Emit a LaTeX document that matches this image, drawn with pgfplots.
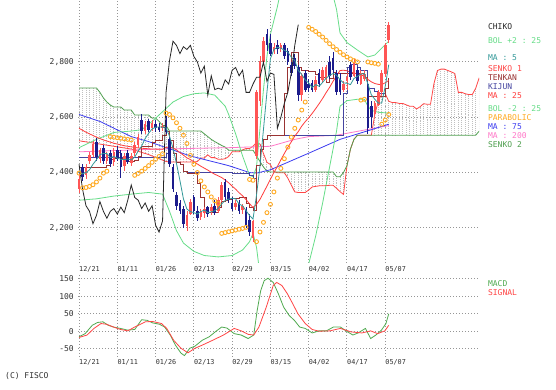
\documentclass[border=0pt]{standalone}
\usepackage{fontspec}
\setmonofont{DejaVu Sans Mono}
\usepackage{pgfplots}
\pgfplotsset{compat=1.18}
\usepackage{pgfplotstable}

\definecolor{upc}{RGB}{255,85,85}
\definecolor{dnc}{RGB}{28,28,140}
\definecolor{bolc}{RGB}{102,221,136}
\definecolor{ma5c}{RGB}{51,153,153}
\definecolor{tenc}{RGB}{153,51,51}
\definecolor{kijc}{RGB}{68,68,160}
\definecolor{ma25c}{RGB}{255,60,60}
\definecolor{s1c}{RGB}{255,70,70}
\definecolor{s2c}{RGB}{80,160,80}
\definecolor{sarc}{RGB}{255,170,34}
\definecolor{ma75c}{RGB}{60,60,240}
\definecolor{ma200c}{RGB}{255,120,200}
\definecolor{macdc}{RGB}{80,170,80}
\definecolor{sigc}{RGB}{255,70,70}
\definecolor{gridc}{RGB}{150,150,150}
\definecolor{hatchc}{RGB}{192,192,192}
\definecolor{txtc}{RGB}{50,50,50}

\tikzset{lab/.style={anchor=west, inner sep=0pt, font=\ttfamily\fontsize{8}{9}\selectfont}}

% Ichimoku cloud: senko 1 (a) and senko 2 (b)
\pgfplotstableread{
i a b
0 2515 2706
1 2513 2706
2 2511 2706
3 2509 2706
4 2507 2706
5 2505 2706
6 2503 2690
7 2501 2670
8 2499 2655
9 2497 2644
10 2495 2637
11 2493 2637
12 2491 2637
13 2489 2626
14 2487 2626
15 2485 2626
16 2481 2608
17 2477 2608
18 2473 2608
19 2469 2608
20 2465 2608
21 2460 2597
22 2455 2597
23 2450 2585
24 2445 2570
25 2440 2570
26 2438 2550
27 2438 2550
28 2438 2550
29 2438 2550
30 2438 2550
31 2438 2550
32 2438 2550
33 2438 2550
34 2440 2550
35 2452 2550
36 2453 2540
37 2464 2530
38 2454 2520
39 2454 2512
40 2448 2505
41 2448 2498
42 2450 2492
43 2458 2481
44 2475 2481
45 2475 2481
46 2475 2481
47 2482 2481
48 2487 2481
49 2487 2481
50 2495 2481
51 2509 2460
52 2503 2440
53 2469 2420
54 2437 2405
55 2429 2402
56 2404 2402
57 2399 2402
58 2399 2402
59 2399 2402
60 2380 2402
61 2355 2402
62 2330 2402
63 2328 2402
64 2328 2402
65 2328 2402
66 2337 2402
67 2348 2402
68 2350 2402
69 2352 2402
70 2352 2402
71 2353 2402
72 2354 2402
73 2354 2402
74 2343 2385
75 2331 2385
76 2321 2400
77 2425 2425
78 2485 2485
79 2520 2520
80 2535 2535
81 2535 2535
82 2535 2535
83 2535 2535
84 2535 2535
85 2610 2535
86 2658 2535
87 2685 2535
88 2685 2535
89 2658 2535
90 2653 2535
91 2653 2535
92 2650 2535
93 2650 2535
94 2645 2535
95 2640 2535
96 2640 2535
97 2630 2535
98 2638 2535
99 2649 2535
100 2647 2535
101 2647 2535
102 2722 2535
103 2769 2535
104 2774 2535
105 2774 2535
106 2769 2535
107 2764 2535
108 2758 2535
109 2690 2535
110 2690 2535
111 2685 2535
112 2682 2535
113 2682 2535
114 2705 2535
115 2743 2550
}\cloud

\pgfplotstableread{
i o h l c
0 2340 2400 2325 2375
2 2390 2430 2375 2420
3 2440 2475 2430 2465
4 2465 2515 2455 2505
6 2450 2490 2435 2480
8 2440 2475 2430 2465
10 2440 2490 2425 2475
13 2425 2470 2405 2460
15 2435 2470 2425 2460
16 2470 2510 2460 2500
17 2500 2540 2490 2530
19 2550 2585 2540 2575
21 2560 2590 2550 2580
24 2560 2580 2550 2570
31 2205 2260 2190 2245
32 2250 2305 2245 2295
35 2240 2270 2230 2260
36 2255 2275 2235 2270
38 2260 2285 2245 2275
40 2260 2310 2255 2300
41 2300 2365 2295 2355
45 2275 2300 2265 2290
47 2265 2285 2250 2280
50 2165 2230 2150 2225
51 2460 2700 2450 2690
52 2660 2820 2640 2805
53 2800 2890 2790 2875
56 2840 2870 2830 2855
58 2845 2870 2835 2860
64 2680 2760 2660 2750
68 2700 2750 2690 2735
70 2735 2780 2725 2770
71 2740 2790 2730 2780
76 2700 2730 2690 2720
77 2730 2760 2700 2745
79 2750 2810 2745 2800
81 2720 2770 2715 2760
82 2740 2770 2730 2755
85 2610 2660 2600 2650
86 2645 2700 2640 2690
87 2690 2770 2680 2760
88 2755 2870 2745 2860
89 2880 2945 2870 2935
}\upcandles

\pgfplotstableread{
i o h l c
1 2420 2430 2370 2385
5 2510 2525 2440 2455
7 2490 2500 2430 2440
9 2470 2480 2420 2430
11 2480 2495 2440 2450
12 2470 2480 2380 2420
14 2470 2480 2430 2440
18 2590 2610 2540 2550
20 2585 2595 2545 2555
22 2575 2590 2545 2560
23 2565 2580 2545 2555
25 2590 2605 2540 2545
26 2520 2530 2420 2430
27 2420 2430 2330 2340
28 2320 2330 2265 2280
29 2290 2300 2250 2260
30 2270 2280 2200 2215
33 2310 2320 2250 2260
34 2260 2280 2225 2235
37 2275 2280 2240 2250
39 2280 2300 2245 2255
42 2365 2375 2300 2310
43 2330 2345 2290 2300
44 2290 2310 2260 2270
46 2290 2300 2250 2260
48 2265 2275 2200 2210
49 2230 2250 2170 2185
54 2900 2920 2840 2860
55 2870 2900 2820 2830
57 2860 2880 2830 2845
59 2860 2870 2810 2820
60 2840 2850 2790 2800
61 2790 2800 2750 2760
62 2815 2830 2775 2785
63 2780 2790 2660 2680
65 2760 2770 2690 2700
66 2720 2740 2690 2705
67 2725 2735 2690 2700
69 2760 2775 2710 2720
72 2800 2820 2740 2750
73 2815 2835 2760 2770
74 2760 2770 2680 2690
75 2740 2760 2680 2690
78 2790 2800 2735 2745
80 2770 2780 2720 2730
83 2720 2730 2540 2560
84 2640 2660 2560 2600
}\dncandles

\begin{document}
\begin{tikzpicture}
\fill[white] (0pt,0pt) rectangle (556pt,390pt);

\begin{axis}[
  at={(78pt,127pt)}, anchor=south west,
  width=401.2pt, height=263pt, scale only axis,
  xmin=-0.3, xmax=115, ymin=2073, ymax=3024,
  axis line style={draw=none},
  major tick length=0pt,
  xtick={0,11,22,33,44,55,66,77,88},
  xticklabels={12/21,01/11,01/26,02/13,02/29,03/15,04/02,04/17,05/07},
  ytick={2200,2400,2600,2800},
  yticklabels={{2,200},{2,400},{2,600},{2,800}},
  grid=major,
  major grid style={gridc, line width=1pt, dash pattern=on 1pt off 2pt},
  xticklabel style={font=\ttfamily\fontsize{6.8}{7}\selectfont, text=txtc, anchor=north west, inner sep=0pt, yshift=-3pt},
  yticklabel style={font=\ttfamily\fontsize{8}{9}\selectfont, text=txtc, anchor=east, inner sep=0pt, xshift=-4pt},
]
% Cloud hatching (vertical dotted lines between senko 1 and senko 2)
\addplot[draw=none, mark=none, forget plot, error bars/.cd, y dir=both, y explicit, error mark=none, error bar style={draw=hatchc, line width=0.9pt, dash pattern=on 1pt off 1pt}]
  table[x=i, y expr={(\thisrow{a}+\thisrow{b})/2}, y error expr={abs(\thisrow{a}-\thisrow{b})/2}] {\cloud};
\addplot[s1c, line width=0.8pt] table[x=i, y=a] {\cloud};
\addplot[s2c, line width=0.8pt] table[x=i, y=b] {\cloud};

% MA 200
\addplot[ma200c, line width=0.8pt] coordinates {(0,2475)(23,2485)(43,2490)(55,2495)(62,2520)(66,2530)(74,2535)(89,2570)};
% MA 75
\addplot[ma75c, line width=0.8pt] coordinates {(0,2610)(6,2585)(15,2530)(20,2512)(32,2460)(43,2425)(49,2400)(51,2398)(55,2410)(66,2470)(75,2520)(84,2555)(89,2575)};
% Bollinger bands
\addplot[bolc, line width=0.8pt] coordinates {(0,2490)(5,2520)(10,2545)(15,2550)(18,2555)(21,2585)(24,2620)(27,2655)(30,2675)(33,2685)(36,2688)(39,2680)(42,2640)(43,2610)(45,2540)(47,2460)(49,2390)(50,2385)(51,2420)(52,2560)(53,2700)(54,2820)(55,2900)(56,2950)(57,3000)(58,3060)(62,3120)(66,3140)(70,3130)(72,3090)(73,3040)(74,2990)(75,2905)(77,2870)(80,2843)(83,2818)(85,2825)(87,2850)(89,2875)};
\addplot[bolc, line width=0.8pt] coordinates {(0,2300)(5,2305)(10,2315)(15,2322)(20,2328)(24,2322)(26,2260)(28,2190)(30,2145)(33,2115)(36,2100)(40,2095)(44,2100)(47,2120)(49,2150)(50,2180)(51,2130)(52,2030)(53,1950)(56,1850)(60,1800)(64,1900)(66,2070)(68,2170)(70,2290)(72,2420)(74,2550)(75,2640)(77,2660)(80,2665)(82,2665)(83,2640)(84,2625)(86,2618)(89,2615)};
% Kijun
\addplot[kijc, line width=0.8pt, const plot] coordinates {(0,2455)(25,2468)(26,2490)(27,2470)(28,2438)(29,2430)(30,2405)(31,2400)(44,2398)(49,2388)(50,2378)(51,2425)(52,2485)(53,2520)(54,2535)(76,2685)(77,2780)(78,2790)(80,2780)(81,2770)(83,2705)(85,2695)(86,2688)(88,2705)(89,2743)};
% Tenkan
\addplot[tenc, line width=0.8pt, const plot] coordinates {(0,2420)(8,2425)(9,2448)(10,2450)(11,2473)(12,2453)(14,2440)(16,2445)(17,2460)(18,2495)(21,2508)(22,2518)(24,2535)(25,2550)(26,2515)(27,2468)(28,2435)(29,2428)(30,2403)(31,2398)(34,2360)(35,2310)(36,2260)(37,2255)(40,2273)(41,2295)(42,2300)(43,2303)(44,2305)(45,2308)(46,2310)(48,2288)(49,2273)(50,2263)(51,2425)(52,2485)(53,2520)(54,2535)(59,2685)(60,2780)(61,2835)(63,2780)(64,2770)(66,2765)(68,2755)(69,2745)(71,2725)(72,2740)(73,2763)(74,2758)(82,2745)(83,2675)(88,2705)(89,2743)};
% MA 25
\addplot[ma25c, line width=0.8pt] coordinates {(0,2560)(1,2553)(2,2546)(3,2540)(4,2534)(5,2528)(6,2523)(7,2518)(8,2514)(9,2510)(10,2506)(11,2503)(12,2500)(13,2497)(14,2495)(15,2493)(16,2491)(17,2489)(18,2488)(19,2487)(20,2486)(21,2485)(22,2485)(23,2484)(24,2484)(25,2491)(26,2493)(27,2489)(28,2482)(29,2472)(30,2463)(31,2453)(32,2447)(33,2439)(34,2431)(35,2423)(36,2416)(37,2409)(38,2401)(39,2394)(40,2388)(41,2382)(42,2373)(43,2363)(44,2351)(45,2340)(46,2327)(47,2316)(48,2302)(49,2287)(50,2274)(51,2285)(52,2303)(53,2327)(54,2351)(55,2376)(56,2400)(57,2422)(58,2446)(59,2469)(60,2491)(61,2511)(62,2532)(63,2548)(64,2568)(65,2584)(66,2598)(67,2614)(68,2631)(69,2649)(70,2668)(71,2689)(72,2708)(73,2730)(74,2750)(75,2769)(76,2770)(77,2768)(78,2763)(79,2760)(80,2756)(81,2752)(82,2749)(83,2737)(84,2728)(85,2722)(86,2719)(87,2718)(88,2725)(89,2733)};

% Candles: wicks and bodies
\addplot[draw=none, mark=none, forget plot, error bars/.cd, y dir=both, y explicit, error mark=none, error bar style={draw=upc, line width=0.8pt}]
  table[x=i, y expr={(\thisrow{h}+\thisrow{l})/2}, y error expr={(\thisrow{h}-\thisrow{l})/2}] {\upcandles};
\addplot[draw=none, mark=none, forget plot, error bars/.cd, y dir=both, y explicit, error mark=none, error bar style={draw=upc, line width=2.6pt}]
  table[x=i, y expr={(\thisrow{o}+\thisrow{c})/2}, y error expr={(\thisrow{c}-\thisrow{o})/2}] {\upcandles};
\addplot[draw=none, mark=none, forget plot, error bars/.cd, y dir=both, y explicit, error mark=none, error bar style={draw=dnc, line width=0.8pt}]
  table[x=i, y expr={(\thisrow{h}+\thisrow{l})/2}, y error expr={(\thisrow{h}-\thisrow{l})/2}] {\dncandles};
\addplot[draw=none, mark=none, forget plot, error bars/.cd, y dir=both, y explicit, error mark=none, error bar style={draw=dnc, line width=2.6pt}]
  table[x=i, y expr={(\thisrow{o}+\thisrow{c})/2}, y error expr={(\thisrow{o}-\thisrow{c})/2}] {\dncandles};

% MA 5
\addplot[ma5c, line width=0.8pt] coordinates {(0,2400)(1,2395)(2,2400)(3,2410)(4,2430)(5,2446)(6,2465)(7,2469)(8,2469)(9,2454)(10,2458)(11,2452)(12,2448)(13,2447)(14,2449)(15,2446)(16,2456)(17,2478)(18,2496)(19,2523)(20,2542)(21,2558)(22,2564)(23,2565)(24,2564)(25,2562)(26,2532)(27,2488)(28,2433)(29,2371)(30,2305)(31,2268)(32,2259)(33,2255)(34,2250)(35,2259)(36,2264)(37,2255)(38,2258)(39,2262)(40,2270)(41,2287)(42,2299)(43,2304)(44,2307)(45,2305)(46,2286)(47,2280)(48,2262)(49,2245)(50,2232)(51,2318)(52,2423)(53,2556)(54,2691)(55,2812)(56,2845)(57,2853)(58,2850)(59,2842)(60,2836)(61,2817)(62,2805)(63,2769)(64,2755)(65,2735)(66,2724)(67,2707)(68,2718)(69,2712)(70,2726)(71,2741)(72,2751)(73,2758)(74,2752)(75,2736)(76,2724)(77,2723)(78,2718)(79,2740)(80,2748)(81,2756)(82,2758)(83,2721)(84,2681)(85,2665)(86,2651)(87,2652)(88,2712)(89,2790)};
% Chiko
\addplot[black!85, line width=0.8pt] coordinates {(0,2430)(1,2340)(2,2280)(3,2260)(4,2215)(5,2245)(6,2295)(7,2260)(8,2235)(9,2260)(10,2270)(11,2250)(12,2275)(13,2255)(14,2300)(15,2355)(16,2310)(17,2300)(18,2270)(19,2290)(20,2260)(21,2280)(22,2210)(23,2185)(24,2225)(25,2690)(26,2805)(27,2875)(28,2860)(29,2830)(30,2855)(31,2845)(32,2860)(33,2820)(34,2800)(35,2760)(36,2785)(37,2680)(38,2750)(39,2700)(40,2705)(41,2700)(42,2735)(43,2720)(44,2770)(45,2780)(46,2750)(47,2770)(48,2690)(49,2690)(50,2720)(51,2745)(52,2745)(53,2800)(54,2730)(55,2760)(56,2755)(57,2560)(58,2600)(59,2650)(60,2690)(61,2760)(62,2860)(63,2935)};
% Parabolic SAR
\addplot[only marks, mark=o, mark size=2pt, mark options={draw=sarc, line width=0.9pt}] coordinates {(0,2398)(1,2345)(2,2346)(3,2350)(4,2356)(5,2366)(6,2380)(7,2398)(8,2405)(9,2530)(10,2528)(11,2526)(12,2524)(13,2522)(14,2520)(15,2518)(16,2390)(17,2397)(18,2405)(19,2415)(20,2425)(21,2437)(22,2448)(23,2458)(24,2468)(25,2615)(26,2610)(27,2598)(28,2580)(29,2560)(30,2535)(31,2505)(32,2462)(33,2430)(34,2400)(35,2370)(36,2348)(37,2330)(38,2312)(39,2298)(40,2288)(41,2180)(42,2183)(43,2186)(44,2189)(45,2192)(46,2195)(47,2198)(48,2202)(49,2375)(50,2372)(51,2150)(52,2185)(53,2220)(54,2255)(55,2285)(56,2330)(57,2380)(58,2415)(59,2450)(60,2492)(61,2528)(62,2560)(63,2590)(64,2626)(65,2655)(66,2925)(67,2918)(68,2910)(69,2900)(70,2890)(71,2878)(72,2866)(73,2855)(74,2845)(75,2835)(76,2826)(77,2818)(78,2811)(79,2805)(80,2800)(81,2662)(82,2665)(83,2800)(84,2797)(85,2795)(86,2792)(87,2575)(88,2590)(89,2610)};

% Anchor points for right-hand labels
\coordinate (lchiko) at (axis cs:117.5,2927);
\coordinate (lbolu) at (axis cs:117.5,2876);
\coordinate (lma5) at (axis cs:117.5,2815);
\coordinate (ls1) at (axis cs:117.5,2775);
\coordinate (lten) at (axis cs:117.5,2743);
\coordinate (lkij) at (axis cs:117.5,2711);
\coordinate (lma25) at (axis cs:117.5,2679);
\coordinate (lbold) at (axis cs:117.5,2630);
\coordinate (lsar) at (axis cs:117.5,2598);
\coordinate (lma75) at (axis cs:117.5,2566);
\coordinate (lma200) at (axis cs:117.5,2534);
\coordinate (ls2) at (axis cs:117.5,2502);
\end{axis}

\node[lab, text=black!85] at (lchiko) {CHIKO};
\node[lab, text=bolc] at (lbolu) {BOL +2 : 25};
\node[lab, text=ma5c] at (lma5) {MA : 5};
\node[lab, text=s1c] at (ls1) {SENKO 1};
\node[lab, text=tenc] at (lten) {TENKAN};
\node[lab, text=kijc] at (lkij) {KIJUN};
\node[lab, text=ma25c] at (lma25) {MA : 25};
\node[lab, text=bolc] at (lbold) {BOL -2 : 25};
\node[lab, text=sarc] at (lsar) {PARABOLIC};
\node[lab, text=ma75c] at (lma75) {MA : 75};
\node[lab, text=ma200c] at (lma200) {MA : 200};
\node[lab, text=s2c] at (ls2) {SENKO 2};

\begin{axis}[
  at={(78pt,33pt)}, anchor=south west,
  width=401.2pt, height=84pt, scale only axis,
  xmin=-0.3, xmax=115, ymin=-74, ymax=167,
  axis line style={draw=none},
  major tick length=0pt,
  xtick={0,11,22,33,44,55,66,77,88},
  xticklabels={12/21,01/11,01/26,02/13,02/29,03/15,04/02,04/17,05/07},
  ytick={-50,0,50,100,150},
  yticklabels={-50,0,50,100,150},
  grid=major,
  major grid style={gridc, line width=1pt, dash pattern=on 1pt off 2pt},
  xticklabel style={font=\ttfamily\fontsize{6.8}{7}\selectfont, text=txtc, anchor=north west, inner sep=0pt, yshift=-2pt},
  yticklabel style={font=\ttfamily\fontsize{8}{9}\selectfont, text=txtc, anchor=east, inner sep=0pt, xshift=-4pt},
]
\addplot[macdc, line width=0.8pt] coordinates {(0,-16)(1.75,-7)(3.8,17)(5.3,25)(6.85,27)(8.4,17)(9.9,12)(11.9,8)(14,3)(16,5)(18,33)(19.6,31)(21.1,24)(23.1,20)(24.6,12)(26.2,-11)(27.7,-40)(29.3,-63)(30.3,-70)(31.8,-49)(33.3,-43)(35.4,-26)(37.4,-16)(39.5,1)(41,12)(42.5,9)(44.6,-7)(46.6,-11)(48.6,-21)(50.2,-11)(51.2,60)(52.2,116)(53.2,145)(54.3,152)(55.8,140)(57.3,107)(58.8,69)(60.4,45)(61.9,31)(63.4,12)(65,8)(67,-5)(69,1)(71.1,1)(73.1,12)(75.1,12)(77.2,-2)(78.7,-11)(80.2,-5)(82.3,8)(83.8,-21)(85.3,-11)(86.9,3)(88.2,22)(89,50)};
\addplot[sigc, line width=0.8pt] coordinates {(0,-18)(2.3,-11)(4.3,8)(6.3,22)(7.9,20)(9.9,12)(11.9,5)(14,1)(16,12)(19.1,27)(21.1,28)(23.7,22)(25.2,8)(27.2,-26)(29.3,-49)(31.3,-62)(33.3,-49)(35.4,-40)(38.4,-26)(41.5,-11)(44.6,8)(46.6,1)(48.6,-9)(50.2,-11)(51.7,12)(53.8,69)(55.8,131)(56.8,140)(58.3,131)(59.9,107)(61.4,79)(62.9,50)(65,22)(67,5)(69,0)(72.1,1)(75.1,8)(78.2,-2)(81.3,-5)(83.8,1)(85.8,-7)(87.9,1)(89,17)};
\coordinate (lmacd) at (axis cs:117.5,138);
\coordinate (lsig) at (axis cs:117.5,110);
\end{axis}
\node[lab, text=macdc] at (lmacd) {MACD};
\node[lab, text=sigc] at (lsig) {SIGNAL};

\node[lab, text=txtc] at (5pt,14pt) {(C) FISCO};
\pgfresetboundingbox
\path[use as bounding box] (0pt,0pt) rectangle (556pt,390pt);
\end{tikzpicture}
\end{document}
